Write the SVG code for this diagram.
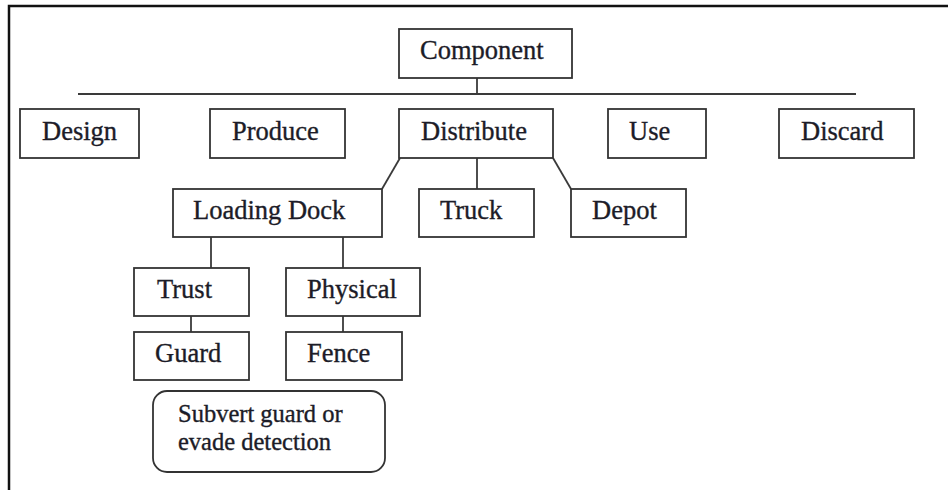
<svg xmlns="http://www.w3.org/2000/svg" width="948" height="490" viewBox="0 0 948 490">
  <style>
    .box { fill: #ffffff; stroke: #333333; stroke-width: 1.8; }
    .lbl { font-family: "Liberation Serif", "Times New Roman", serif; font-size: 26.5px; fill: #1c1c28; stroke: #1c1c28; stroke-width: 0.35; }
    .note { font-size: 24.5px; }
    .link { stroke: #3a3a3a; stroke-width: 1.8; fill: none; }
    .frame { stroke: #111111; stroke-width: 2.5; fill: none; }
  </style>
  <rect width="948" height="490" fill="#ffffff"/>
  <!-- page frame (top and left edges) -->
  <path class="frame" d="M9 490 V6 H948"/>

  <g id="connectors">
    <line class="link" x1="477" y1="78" x2="477" y2="94"/>
    <line class="link" x1="78" y1="94" x2="856" y2="94"/>
    <line class="link" x1="400" y1="158" x2="382" y2="189"/>
    <line class="link" x1="477" y1="158" x2="477" y2="189"/>
    <line class="link" x1="553" y1="158" x2="571" y2="189"/>
    <line class="link" x1="211" y1="237" x2="211" y2="268"/>
    <line class="link" x1="343" y1="237" x2="343" y2="268"/>
    <line class="link" x1="191" y1="316" x2="191" y2="332"/>
    <line class="link" x1="343" y1="316" x2="343" y2="332"/>
  </g>

  <g id="component">
    <rect class="box" x="399" y="29" width="173" height="49"/>
    <text class="lbl" x="420" y="59">Component</text>
  </g>
  <g id="design">
    <rect class="box" x="20" y="109" width="119" height="49"/>
    <text class="lbl" x="42" y="140">Design</text>
  </g>
  <g id="produce">
    <rect class="box" x="210" y="109" width="135" height="49"/>
    <text class="lbl" x="232" y="140">Produce</text>
  </g>
  <g id="distribute">
    <rect class="box" x="399" y="109" width="154" height="49"/>
    <text class="lbl" x="421" y="140">Distribute</text>
  </g>
  <g id="use">
    <rect class="box" x="608" y="109" width="98" height="49"/>
    <text class="lbl" x="629" y="140">Use</text>
  </g>
  <g id="discard">
    <rect class="box" x="779" y="109" width="135" height="49"/>
    <text class="lbl" x="801" y="140">Discard</text>
  </g>
  <g id="loading-dock">
    <rect class="box" x="173" y="189" width="209" height="48"/>
    <text class="lbl" x="193" y="219">Loading Dock</text>
  </g>
  <g id="truck">
    <rect class="box" x="419" y="189" width="115" height="48"/>
    <text class="lbl" x="440" y="219">Truck</text>
  </g>
  <g id="depot">
    <rect class="box" x="571" y="189" width="115" height="48"/>
    <text class="lbl" x="592" y="219">Depot</text>
  </g>
  <g id="trust">
    <rect class="box" x="134" y="268" width="115" height="48"/>
    <text class="lbl" x="157" y="298">Trust</text>
  </g>
  <g id="physical">
    <rect class="box" x="286" y="268" width="134" height="48"/>
    <text class="lbl" x="307" y="298">Physical</text>
  </g>
  <g id="guard">
    <rect class="box" x="134" y="332" width="115" height="48"/>
    <text class="lbl" x="155" y="362">Guard</text>
  </g>
  <g id="fence">
    <rect class="box" x="286" y="332" width="116" height="48"/>
    <text class="lbl" x="307" y="362">Fence</text>
  </g>
  <g id="subvert">
    <rect class="box" x="153" y="391" width="232" height="81" rx="14" ry="14"/>
    <text class="lbl note" x="178" y="422">Subvert guard or</text>
    <text class="lbl note" x="178" y="450">evade detection</text>
  </g>
</svg>
